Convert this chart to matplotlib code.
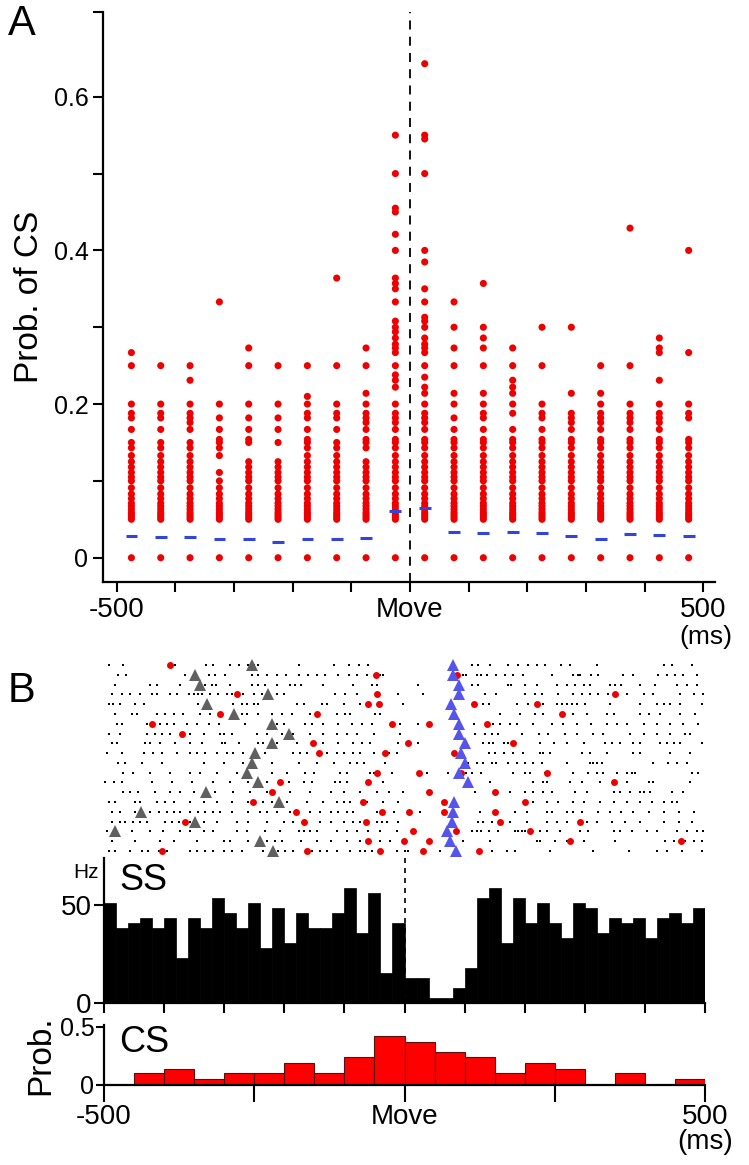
import matplotlib
matplotlib.use('Agg')
import matplotlib.pyplot as plt
import numpy as np

plt.rcParams['font.family'] = ['Liberation Sans', 'DejaVu Sans']

# ---------------- Panel A data ----------------
bin_centers_ms = [-475, -425, -375, -325, -275, -225, -175, -125, -75, -25,
                  25, 75, 125, 175, 225, 275, 325, 375, 425, 475]

col_m475 = [0, 0.05, 0.053, 0.056, 0.059, 0.063, 0.067, 0.071, 0.077, 0.083, 0.091, 0.1, 0.105, 0.111, 0.118, 0.125, 0.133,
            0.143, 0.15, 0.167, 0.182, 0.188, 0.2, 0.25, 0.267]
col_m425 = [0, 0.05, 0.053, 0.056, 0.059, 0.063, 0.067, 0.071, 0.077, 0.083, 0.091, 0.1, 0.105, 0.111, 0.118, 0.125, 0.133,
            0.143, 0.15, 0.167, 0.182, 0.188, 0.2, 0.25]
col_m375 = [0, 0.05, 0.053, 0.056, 0.059, 0.063, 0.067, 0.071, 0.077, 0.083, 0.091, 0.1, 0.105, 0.111, 0.118, 0.125, 0.133,
            0.143, 0.15, 0.167, 0.176, 0.182, 0.188, 0.2, 0.231, 0.25]
col_m325 = [0, 0.05, 0.053, 0.056, 0.059, 0.063, 0.067, 0.071, 0.077, 0.083, 0.091, 0.1, 0.111, 0.133,
            0.143, 0.15, 0.154, 0.167, 0.182, 0.2, 0.333]
col_m275 = [0, 0.05, 0.053, 0.056, 0.059, 0.063, 0.067, 0.071, 0.077, 0.083, 0.091, 0.1, 0.105, 0.111, 0.118, 0.125,
            0.15, 0.154, 0.167, 0.182, 0.2, 0.25, 0.273]
col_m225 = [0, 0.05, 0.053, 0.056, 0.059, 0.063, 0.067, 0.071, 0.077, 0.083, 0.091, 0.1, 0.105, 0.111, 0.118, 0.125,
            0.15, 0.167, 0.182, 0.2, 0.25]
col_m175 = [0, 0.05, 0.053, 0.056, 0.059, 0.063, 0.067, 0.071, 0.077, 0.083, 0.091, 0.1, 0.105, 0.111, 0.118, 0.125, 0.133,
            0.143, 0.15, 0.154, 0.167, 0.182, 0.188, 0.2, 0.21, 0.25]
col_m125 = [0, 0.05, 0.053, 0.056, 0.059, 0.063, 0.067, 0.071, 0.077, 0.083, 0.091, 0.1, 0.105, 0.111, 0.118, 0.125, 0.133,
            0.143, 0.15, 0.167, 0.182, 0.188, 0.2, 0.25, 0.364]
col_m75 = [0, 0.05, 0.053, 0.056, 0.059, 0.063, 0.067, 0.071, 0.077, 0.083, 0.091, 0.1, 0.105, 0.111, 0.118, 0.125,
           0.143, 0.15, 0.154, 0.167, 0.176, 0.182, 0.188, 0.2, 0.214, 0.25, 0.273]
col_m25 = [0, 0.05, 0.053, 0.056, 0.059, 0.063, 0.067, 0.071, 0.077, 0.083, 0.091, 0.1, 0.105, 0.111, 0.118, 0.125, 0.133,
           0.143, 0.15, 0.154, 0.167, 0.176, 0.182, 0.188, 0.2, 0.222, 0.231, 0.238, 0.25, 0.267, 0.273, 0.278,
           0.286, 0.294, 0.3, 0.308, 0.333, 0.35, 0.357, 0.364, 0.4, 0.421, 0.45, 0.455, 0.5, 0.55]
col_p25 = [0, 0.05, 0.053, 0.056, 0.059, 0.063, 0.067, 0.071, 0.077, 0.083, 0.091, 0.1, 0.105, 0.111, 0.118, 0.125, 0.133,
           0.143, 0.15, 0.154, 0.167, 0.176, 0.182, 0.188, 0.2, 0.214, 0.222, 0.235, 0.25, 0.267, 0.273, 0.278,
           0.286, 0.3, 0.308, 0.313, 0.333, 0.35, 0.385, 0.4, 0.5, 0.545, 0.55, 0.643]
col_p75 = [0, 0.05, 0.053, 0.056, 0.059, 0.063, 0.067, 0.071, 0.077, 0.083, 0.091, 0.1, 0.105, 0.111, 0.118, 0.125, 0.133,
           0.143, 0.15, 0.154, 0.167, 0.182, 0.2, 0.214, 0.25, 0.273, 0.3, 0.333]
col_p125 = [0, 0.05, 0.053, 0.056, 0.059, 0.063, 0.067, 0.071, 0.077, 0.083, 0.091, 0.1, 0.105, 0.111, 0.118, 0.125, 0.133,
            0.143, 0.15, 0.154, 0.167, 0.182, 0.188, 0.2, 0.214, 0.25, 0.273, 0.286, 0.3, 0.357]
col_p175 = [0, 0.05, 0.053, 0.056, 0.059, 0.063, 0.067, 0.071, 0.077, 0.083, 0.091, 0.1, 0.105, 0.111, 0.118, 0.125, 0.133,
            0.143, 0.15, 0.154, 0.167, 0.188, 0.2, 0.214, 0.222, 0.231, 0.25, 0.273]
col_p225 = [0, 0.05, 0.053, 0.056, 0.059, 0.063, 0.067, 0.071, 0.077, 0.083, 0.091, 0.1, 0.105, 0.111, 0.118, 0.125, 0.133,
            0.143, 0.15, 0.154, 0.167, 0.182, 0.188, 0.2, 0.25, 0.3]
col_p275 = [0, 0.05, 0.053, 0.056, 0.059, 0.063, 0.067, 0.071, 0.077, 0.083, 0.091, 0.1, 0.105, 0.111, 0.118, 0.125, 0.133,
            0.143, 0.15, 0.154, 0.167, 0.176, 0.182, 0.188, 0.214, 0.3]
col_p325 = [0, 0.05, 0.053, 0.056, 0.059, 0.063, 0.067, 0.071, 0.077, 0.083, 0.091, 0.1, 0.105, 0.111, 0.118, 0.125, 0.133,
            0.143, 0.15, 0.154, 0.167, 0.176, 0.182, 0.188, 0.2, 0.214, 0.25]
col_p375 = [0, 0.05, 0.053, 0.056, 0.059, 0.063, 0.067, 0.071, 0.077, 0.083, 0.091, 0.1, 0.105, 0.111, 0.118, 0.125, 0.133,
            0.143, 0.15, 0.154, 0.167, 0.176, 0.182, 0.188, 0.2, 0.25, 0.429]
col_p425 = [0, 0.05, 0.053, 0.056, 0.059, 0.063, 0.067, 0.071, 0.077, 0.083, 0.091, 0.1, 0.105, 0.111, 0.118, 0.125, 0.133,
            0.143, 0.15, 0.154, 0.167, 0.176, 0.182, 0.188, 0.2, 0.231, 0.267, 0.273, 0.286]
col_p475 = [0, 0.05, 0.053, 0.056, 0.059, 0.063, 0.067, 0.071, 0.077, 0.083, 0.091, 0.1, 0.105, 0.111, 0.118, 0.125, 0.133,
            0.143, 0.15, 0.154, 0.182, 0.188, 0.2, 0.267, 0.4]

prob_columns = [col_m475, col_m425, col_m375, col_m325, col_m275, col_m225, col_m175, col_m125, col_m75, col_m25,
                col_p25, col_p75, col_p125, col_p175, col_p225, col_p275, col_p325, col_p375, col_p425, col_p475]

mean_prob = [0.0286, 0.0265, 0.0273, 0.0248, 0.024, 0.0208, 0.024, 0.0243, 0.0252, 0.0608,
             0.0643, 0.0339, 0.0326, 0.033, 0.0317, 0.0278, 0.0248, 0.0304, 0.0295, 0.0282]

# ---------------- Panel B data ----------------
spike_times = [
    [-491, -468, -382, -330, -318, -290, -276, -260, -251, -243, -175, -117, -92, -75, -60, 112, 123, 142, 173, 189, 206, 220, 234, 261, 275, 320, 431, 445, 478],
    [-476, -463, -365, -326, -315, -298, -254, -243, -229, -212, -198, -175, -160, -146, -132, -110, -93, -79, -62, -40, -35, 98, 103, 120, 128, 137, 153, 167, 181, 198, 245, 281, 289, 292, 311, 322, 364, 381, 422, 436, 450, 464, 486],
    [-481, -423, -412, -373, -332, -320, -313, -290, -254, -243, -232, -212, -190, -182, -172, -135, -85, -54, -46, 23, 112, 123, 173, 178, 200, 220, 253, 270, 284, 298, 309, 342, 350, 361, 392, 417, 453, 470, 486],
    [-487, -470, -456, -440, -420, -412, -390, -378, -358, -351, -344, -337, -324, -311, -296, -287, -268, -251, -237, -212, -201, -115, -99, -79, -10, 31, 134, 153, 200, 217, 228, 256, 281, 295, 309, 322, 339, 370, 398, 414, 459, 481, 497],
    [-491, -485, -473, -448, -434, -343, -285, -271, -262, -251, -243, -179, -168, -137, -129, -101, -74, -2, 131, 140, 187, 206, 231, 253, 262, 270, 278, 287, 300, 342, 392, 420, 431, 442, 459, 495],
    [-481, -454, -445, -412, -398, -384, -368, -340, -323, -271, -262, -243, -221, -204, -187, -157, -112, -99, -90, -49, -40, 159, 192, 217, 231, 281, 303, 337, 348, 392, 406, 425, 459, 484],
    [-479, -470, -429, -418, -406, -395, -384, -362, -345, -326, -309, -265, -212, -201, -165, -154, -135, -110, -87, -71, -54, -7, 23, 115, 148, 159, 176, 187, 214, 245, 264, 287, 311, 337, 353, 370, 398, 420, 442, 464, 489],
    [-492, -473, -429, -415, -404, -390, -357, -334, -307, -301, -287, -246, -229, -204, -185, -157, -135, -112, -96, -79, -51, -7, 117, 134, 145, 156, 195, 223, 239, 267, 287, 314, 331, 375, 398, 420, 442, 467, 475],
    [-487, -479, -431, -423, -406, -382, -357, -337, -304, -298, -276, -243, -235, -212, -179, -135, -110, -85, -71, -57, -10, 23, 131, 140, 148, 165, 173, 226, 248, 270, 298, 334, 345, 359, 381, 392, 425, 436, 448, 459, 495],
    [-495, -470, -434, -418, -404, -379, -357, -345, -332, -312, -296, -285, -268, -232, -185, -174, -162, -129, -112, -101, -85, -74, -51, -26, -12, 140, 151, 165, 181, 198, 226, 231, 242, 295, 309, 337, 381, 392, 442, 475],
    [-476, -465, -437, -404, -334, -301, -268, -221, -176, -146, -118, -90, -79, -68, -32, 106, 120, 131, 145, 153, 173, 187, 200, 214, 228, 270, 309, 314, 320, 328, 414, 439, 453, 470],
    [-468, -452, -423, -390, -357, -340, -312, -279, -221, -196, -165, -151, -107, -96, -57, -51, -21, 37, 73, 103, 112, 128, 181, 200, 209, 234, 281, 306, 320, 331, 353, 370, 378, 384, 478, 489],
    [-498, -484, -470, -420, -387, -354, -318, -290, -260, -229, -193, -168, -154, -115, -107, -96, -35, 142, 214, 231, 237, 275, 295, 325, 348, 370, 406, 414, 475],
    [-468, -456, -443, -415, -390, -373, -351, -315, -285, -257, -229, -190, -157, -123, -101, -74, -46, -26, -2, 117, 151, 176, 200, 214, 231, 245, 284, 303, 348, 359, 375, 392, 398, 409, 445, 464],
    [-492, -481, -448, -440, -412, -398, -384, -357, -334, -312, -287, -260, -235, -221, -196, -162, -135, -112, -101, -90, -62, -35, -10, 214, 237, 256, 281, 298, 325, 348, 370, 392, 411, 431, 445, 453],
    [-487, -473, -448, -440, -423, -409, -395, -384, -373, -357, -343, -332, -318, -307, -287, -260, -240, -229, -212, -190, -157, -140, -123, -110, -96, -85, -46, -18, 26, 126, 184, 203, 237, 245, 270, 281, 295, 322, 342, 361, 381, 406, 431, 456, 481],
    [-487, -473, -465, -451, -440, -429, -398, -387, -376, -357, -334, -312, -279, -260, -229, -201, -185, -168, -140, -123, -101, -85, -74, -62, -46, -38, -29, -10, 123, 131, 145, 176, 203, 237, 253, 270, 303, 320, 345, 367, 392, 431, 456, 478],
    [-495, -454, -423, -401, -373, -357, -334, -318, -279, -262, -232, -207, -176, -168, -157, -146, -112, -96, -79, -60, -40, -12, 112, 120, 128, 140, 156, 184, 189, 195, 200, 226, 237, 259, 292, 306, 348, 359, 378, 403, 420, 453, 470, 486, 497],
    [-487, -448, -406, -384, -345, -301, -290, -260, -229, -215, -204, -173, -146, -123, -96, -74, -40, -24, 98, 142, 220, 226, 250, 270, 298, 350, 434, 448, 467, 481, 495],
    [-492, -481, -456, -437, -426, -409, -395, -357, -345, -332, -318, -301, -287, -271, -235, -221, -210, -199, -185, -154, -140, -129, -112, -90, -74, -66, -54, -12, 1, 6, 59, 145, 170, 184, 242, 314, 373, 420, 436, 461, 495],
]

cs_times = [
    [-390], [-48, 88], [], [-278, -45, 350], [-61, -42, 115, 220], [-307, -145, 262],
    [-420, -20, 40, 137], [-371], [-153, 5, 181], [-143, -32, 82], [], [-45, 24, 94, 237],
    [-207, -61, 349], [-221, 40, 150], [-252, -69, 66, 201], [-181, -37, 8, 66, 150],
    [-365, -167, -64, 159, 292], [14, 86, 209], [-61, -1, 40, 275, 460], [-403, -162, -40, 30, 124],
]

gray_event_ms = [-253, -349, -340, -227, -329, -283, -221, -192, -220, -249,
                 -254, -262, -244, -330, -209, -439, -349, -482, -241, -218]
blue_event_ms = [80, 81, 90, 90, 77, 82, 91, 91, 101, 94,
                 101, 91, 106, np.nan, 83, 80, 79, 70, 75, 86]

ss_bin_edges_ms = list(range(-500, 501, 20))
ss_rate_hz = [51.2, 38.5, 41, 43.6, 38.5, 43.6, 23.2, 43.6, 38.5, 53.7,
              46.1, 38.5, 51.2, 28.3, 48.6, 30.8, 46.1, 38.5, 38.5, 46.1,
              58.8, 35.9, 56.3, 15.6, 41, 13.1, 13.1, 2.9, 2.9, 8,
              18.1, 53.7, 58.8, 30.8, 53.7, 41, 51.2, 41, 33.4, 51.2,
              48.6, 35.9, 43.6, 41, 43.6, 33.4, 43.6, 46.1, 41, 48.6]

cs_bin_edges_ms = list(range(-500, 501, 50))
cs_prob = [0, 0.1, 0.14, 0.05, 0.1, 0.1, 0.19, 0.1, 0.24, 0.42,
           0.37, 0.28, 0.24, 0.1, 0.19, 0.14, 0, 0.1, 0, 0.05]

# ---------------- figure ----------------
W, H = 749, 1165
fig = plt.figure(figsize=(W / 100, H / 100), dpi=100)

def rect(x0, y0, x1, y1):
    return [x0 / W, 1 - y1 / H, (x1 - x0) / W, (y1 - y0) / H]

RED = '#ee0000'

# ----- Panel A -----
axA = fig.add_axes(rect(103, 12, 715, 581.7))
for xc, vals in zip(bin_centers_ms, prob_columns):
    axA.scatter([xc] * len(vals), vals, s=26, color=RED, edgecolors='none', zorder=3)
for xc, m in zip(bin_centers_ms, mean_prob):
    axA.plot([xc - 10, xc + 10], [m, m], color='#3344dd', lw=2.2, solid_capstyle='butt', zorder=4)
axA.axvline(0, color='black', lw=1.3, ls=(0, (5, 4)), zorder=2)
axA.set_xlim(-523.4, 519.9)
axA.set_ylim(-0.0312, 0.7103)
for s in ['top', 'right']:
    axA.spines[s].set_visible(False)
for s in ['left', 'bottom']:
    axA.spines[s].set_linewidth(1.6)
axA.set_yticks([0, 0.2, 0.4, 0.6])
axA.set_yticklabels(['0', '0.2', '0.4', '0.6'])
axA.set_yticks([0.1, 0.3, 0.5, 0.7103], minor=True)
axA.set_xticks(list(range(-500, 501, 100)))
axA.set_xticklabels(['-500', '', '', '', '', 'Move', '', '', '', '', '500'])
axA.tick_params(axis='both', which='both', direction='out', length=7, width=1.5)
axA.tick_params(axis='y', labelsize=18)
axA.tick_params(axis='x', labelsize=20, pad=4)
axA.set_ylabel('Prob. of CS', fontsize=24, labelpad=6)
fig.text(706 / W, 1 - 637 / H, '(ms)', fontsize=19, ha='center', va='center')
fig.text(8 / W, 1 - 24 / H, 'A', fontsize=30, ha='left', va='center')

# ----- Panel B raster -----
row_top_px, row_bot_px = 665.0, 851.0
row_gap = (row_bot_px - row_top_px) / 19
axR = fig.add_axes(rect(104, row_top_px - 0.7 * row_gap, 705, row_bot_px + 0.7 * row_gap))
for i, (sp, cs) in enumerate(zip(spike_times, cs_times)):
    row = i + 1
    axR.plot(sp, [row] * len(sp), ls='none', marker='s', ms=1.6, color='black', mew=0)
    if cs:
        axR.plot(cs, [row] * len(cs), ls='none', marker='o', ms=5, color=RED, mew=0, zorder=4)
rows = list(range(1, 21))
axR.plot(gray_event_ms, rows, ls='none', marker='^', ms=8, color='#606060', mew=0, zorder=5)
axR.plot(blue_event_ms, rows, ls='none', marker='^', ms=9, color='#5555ee', mew=0, zorder=5)
axR.set_xlim(-500, 500)
axR.set_ylim(20.7, 0.3)
axR.axis('off')
fig.text(8 / W, 1 - 691 / H, 'B', fontsize=30, ha='left', va='center')

# ----- SS histogram -----
axS = fig.add_axes(rect(104, 858.3, 705, 1003.3))
axS.bar(ss_bin_edges_ms[:-1], ss_rate_hz, width=20, align='edge', color='black', edgecolor='black', lw=0.5)
axS.axvline(0, color='black', lw=1.2, ls=(0, (3, 3)), zorder=3)
axS.set_xlim(-500, 500)
axS.set_ylim(0, 73.7)
for s in ['top', 'right']:
    axS.spines[s].set_visible(False)
for s in ['left', 'bottom']:
    axS.spines[s].set_linewidth(1.6)
axS.set_yticks([0, 50])
axS.set_yticklabels(['0', '50'])
axS.set_xticks(list(range(-500, 501, 100)))
axS.set_xticklabels([])
axS.tick_params(axis='both', direction='out', length=7, width=1.5, labelsize=20, pad=2)
axS.text(0.025, 0.97, 'SS', transform=axS.transAxes, fontsize=26, ha='left', va='top')
fig.text(86 / W, 1 - 873 / H, 'Hz', fontsize=15, ha='center', va='center')

# ----- CS histogram -----
axC = fig.add_axes(rect(104, 1025, 705, 1085))
axC.bar(cs_bin_edges_ms[:-1], cs_prob, width=50, align='edge', color='#ff0000', edgecolor='#5a1010', lw=0.8)
axC.set_xlim(-500, 500)
axC.set_ylim(0, 0.515)
for s in ['top', 'right']:
    axC.spines[s].set_visible(False)
for s in ['left', 'bottom']:
    axC.spines[s].set_linewidth(1.6)
axC.set_yticks([0, 0.5])
axC.set_yticklabels(['0', '0.5'])
axC.set_xticks([-500, -250, 0, 250, 500])
axC.set_xticklabels(['-500', '', 'Move', '', '500'])
axC.tick_params(axis='y', direction='out', length=6, width=1.5, labelsize=18, pad=1)
axC.tick_params(axis='x', direction='out', length=12, width=1.5, labelsize=20, pad=2)
axC.text(0.025, 1.0, 'CS', transform=axC.transAxes, fontsize=26, ha='left', va='top')
axC.set_ylabel('Prob.', fontsize=24, labelpad=2)
fig.text(705 / W, 1 - 1142 / H, '(ms)', fontsize=20, ha='center', va='center')

fig.savefig('out.png', dpi=100)
